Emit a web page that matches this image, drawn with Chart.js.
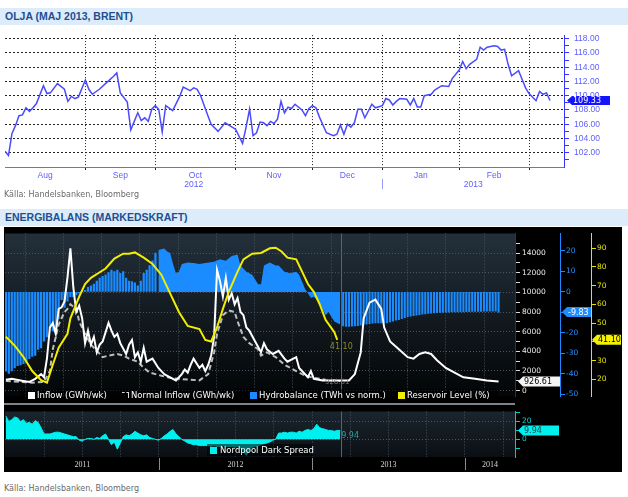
<!DOCTYPE html>
<html>
<head>
<meta charset="utf-8">
<title>Olja &amp; Energibalans</title>
<script src="https://cdn.jsdelivr.net/npm/chart.js@4.4.1/dist/chart.umd.min.js"></script>
<style>
  html, body { margin: 0; padding: 0; }
  body { width: 628px; height: 497px; position: relative; overflow: hidden; background: #fff; font-family: "DejaVu Sans", sans-serif; }
  .hdr { position: absolute; left: 0; width: 628px; height: 17px; background: #dcecfa; color: #1d4f90;
         font: bold 10.5px "Liberation Sans", Arial, sans-serif; line-height: 17px; padding-left: 5px; box-sizing: border-box; }
  .src { position: absolute; left: 4px; font-size: 8px; color: #6a6a6a; }
  canvas { position: absolute; display: block; }
  #dark { position: absolute; left: 4px; top: 227px; width: 618px; height: 245px; background: #000; }
  #sep { position: absolute; left: 4px; top: 403px; width: 511px; height: 2px; background: #7d848b; }
  .box { position: absolute; background: rgba(0,0,0,0.55); }
  .lt { position: absolute; top: 0; color: #fff; font-size: 8.5px; line-height: 12px; white-space: nowrap; }
  .sw { position: absolute; top: 3px; width: 7px; height: 7px; }
</style>
</head>
<body>

<div class="hdr" style="top:8px">OLJA (MAJ 2013, BRENT)</div>
<canvas id="oil" width="628" height="170" style="left:0;top:25px"></canvas>
<div class="src" style="top:190px">Källa: Handelsbanken, Bloomberg</div>

<div class="hdr" style="top:209px">ENERGIBALANS (MARKEDSKRAFT)</div>
<div id="dark"></div>
<canvas id="energy" width="617" height="176" style="left:5px;top:227px"></canvas>
<div id="sep"></div>
<canvas id="spread" width="617" height="67" style="left:5px;top:405px"></canvas>

<div class="box" style="left:20px;top:389px;width:478px;height:12px">
  <span class="sw" style="left:8px;background:#fff"></span><span class="lt" style="left:17px">Inflow (GWh/wk)</span>
  <span class="sw" style="left:102px;height:5px;width:6px;border-top:1px dashed #ddd;border-right:1px solid #ddd;background:none"></span><span class="lt" style="left:111px">Normal Inflow (GWh/wk)</span>
  <span class="sw" style="left:230px;background:#1a8cff"></span><span class="lt" style="left:239px">Hydrobalance (TWh vs norm.)</span>
  <span class="sw" style="left:378px;background:#f2ee00"></span><span class="lt" style="left:387px">Reservoir Level (%)</span>
</div>
<div class="box" style="left:207px;top:444px;width:106px;height:12px">
  <span class="sw" style="left:3px;background:#00f0f0"></span><span class="lt" style="left:13px">Nordpool Dark Spread</span>
</div>

<div class="src" style="top:484px">Källa: Handelsbanken, Bloomberg</div>

<script>
// ── Oil data (trading-day index from 1 Aug 2012) ─────────────
const MONTH_LABELS = ['Aug','Sep','Oct','Nov','Dec','Jan','Feb'];
const MONTH_START  = [0, 23, 43, 66, 88, 108, 130, 150];
const YEAR_LABELS  = ['2012', '2013'];
const YEAR_FROM    = [0, 108];
const YEAR_TO      = [108, 160];

const OIL_DAY = [
  0, 1, 2, 3, 4, 5, 6, 7, 8, 9, 11, 12, 13, 15, 17, 18, 19, 20, 21, 23,
  24, 25, 27, 29, 31, 32, 33, 35, 36, 37, 38, 39, 40, 41, 42, 43, 44, 45, 46, 48,
  50, 51, 53, 54, 55, 56, 58, 59, 61, 63, 65, 66, 68, 69, 70, 71, 72, 73, 74, 75,
  76, 77, 78, 79, 80, 81, 82, 83, 85, 86, 87, 88, 89, 90, 92, 94, 95, 96, 97, 98,
  99, 100, 101, 102, 103, 105, 106, 108, 109, 110, 111, 112, 113, 115, 116, 117, 118, 119, 120, 122,
  123, 125, 127, 128, 130, 131, 132, 133, 135, 136, 137, 138, 140, 141, 142, 143, 144, 145, 147, 148,
  149, 150, 152, 153, 154, 155, 156
];
const OIL_PRICE = [
  102.2, 101.6, 104.7, 105.8, 107.2, 107.3, 108.3, 107.8, 108.3, 108.9, 111.4, 110.3, 110.4, 111.7, 110.9, 109.2, 109.9, 109.6, 109.8, 112.2,
  110.9, 110.2, 110.9, 111.8, 112.7, 113.2, 110.4, 109.1, 105.2, 106.4, 107.6, 106.5, 106.9, 106.4, 108.1, 108.6, 108.1, 104.9, 108.6, 107.9,
  109.9, 111.2, 110.7, 111.1, 110.9, 110.0, 107.3, 106.0, 105.0, 106.2, 105.6, 105.3, 103.3, 105.6, 108.1, 104.4, 104.8, 106.3, 106.2, 105.8,
  106.4, 106.1, 106.7, 109.2, 107.6, 108.4, 108.2, 108.8, 108.0, 107.2, 108.2, 108.6, 108.3, 107.0, 104.8, 104.4, 104.6, 105.9, 104.6, 106.0,
  105.6, 106.2, 108.1, 108.1, 106.9, 108.8, 108.3, 108.6, 109.6, 109.4, 108.7, 109.2, 109.6, 109.5, 108.7, 109.6, 108.4, 108.4, 110.0, 110.2,
  110.8, 111.4, 111.3, 112.4, 113.6, 114.8, 113.8, 114.4, 115.1, 116.8, 116.4, 116.8, 117.0, 116.9, 116.4, 116.5, 114.4, 112.8, 113.5, 112.3,
  111.1, 110.3, 109.3, 110.6, 110.2, 110.4, 109.33
];

// ── Energy data (week number from 1 Jan 2011) ─────────────────
const YEARS      = ['2011', '2012', '2013', '2014'];
const YEAR_WEEK  = [0, 52.2, 104.4, 156.5];
const QUARTERS   = [13.05, 26.1, 39.1, 52.2, 65.2, 78.3, 91.3, 104.4, 117.4, 130.4, 143.5, 156.5, 169.6];
const NOW_WEEK   = 114.3;

const RES_WEEK  = [0, 3, 6, 9, 12, 14, 16, 18, 21, 22, 25, 27, 29, 32, 34, 37, 40, 42, 44, 47, 50, 53, 56, 59,
                   62, 66, 68, 70, 72, 74, 76, 79, 81, 84, 87, 90, 92, 94, 96, 99, 101, 103, 105, 107, 109, 112, 113];
const RES_LEVEL = [42.7, 38.0, 31.9, 24.4, 19.5, 18.2, 27.8, 36.9, 44.3, 52.6, 64.2, 70.9, 74.2, 77.2, 79.2, 84.5, 87.1, 87.1, 87.8, 85.0, 81.6, 75.9, 65.9, 56.0,
                   48.5, 46.8, 41.0, 40.2, 47.7, 57.6, 66.7, 77.5, 84.1, 87.1, 87.5, 90.0, 90.3, 88.3, 85.0, 84.1, 77.5, 70.9, 66.7, 60.1, 51.8, 45.2, 41.10];

const INFLOW_WEEK = [0, 2, 5, 8, 10, 12, 13, 14, 15, 16, 17, 18, 19, 20, 21, 22, 23, 24, 25, 26, 27, 28, 29, 30, 31, 32, 33, 35, 36, 37,
                     38, 39, 41, 42, 43, 44, 45, 46, 47, 48, 50, 52, 54, 56, 58, 60, 61, 62, 63, 64, 66, 67, 68, 69, 70, 71, 72, 73, 74, 75,
                     76, 77, 78, 79, 80, 81, 82, 83, 85, 87, 88, 89, 91, 93, 95, 96, 99, 100, 103, 104, 105, 108, 112, 117, 119, 121, 122, 124, 126, 128,
                     129, 131, 134, 137, 139, 141, 143, 145, 147, 150, 153, 156, 160, 164, 168];
const INFLOW      = [1110, 1200, 1040, 890, 1200, 1680, 1360, 3260, 6420, 6890, 5780, 8310, 8470, 9100, 11500, 14480, 10500, 8000, 8630, 7370, 4830, 6100, 4680, 5470, 3890, 4680, 5000, 6890, 6100, 5470,
                     5780, 4830, 3730, 4680, 5160, 3410, 3890, 2940, 4360, 2940, 3260, 2310, 1680, 1360, 1040, 1680, 2150, 1840, 2630, 3260, 2310, 2630, 1990, 2630, 3570, 5500, 12270, 11160, 9570, 11470,
                     9260, 9900, 8790, 9420, 8000, 7680, 6420, 6100, 5000, 3900, 4830, 4210, 3730, 4050, 3260, 2940, 3410, 2310, 1360, 1990, 1200, 1040, 1040, 1040, 1680, 3890, 7370, 8950, 9260, 8310,
                     6420, 5000, 4210, 3410, 3260, 3730, 3890, 3730, 3100, 2310, 1840, 1360, 1200, 1040, 926.61];

const NORMAL_WEEK   = [0, 5, 9, 13, 15, 16, 18, 20, 21, 22, 24, 25, 27, 29, 31, 33, 35, 38, 40, 42, 45, 47, 49, 53, 56,
                       59, 63, 66, 69, 71, 72, 74, 76, 78, 79, 81, 83, 86, 87, 89, 92, 95, 99, 102, 105, 109, 114];
const NORMAL_INFLOW = [980, 890, 800, 890, 1990, 4210, 6730, 8000, 8310, 8790, 8310, 7050, 5780, 4680, 4050, 3410, 3570, 3730, 3570, 3260, 2940, 2310, 1840, 1520, 1300,
                       1200, 1110, 1040, 1680, 3890, 5780, 7680, 8150, 8000, 7050, 5470, 4830, 4210, 3570, 3890, 3410, 2630, 1990, 1520, 1300, 1110, 980];

// hydrobalance 2011, one bar per week from week 0
const HYD_2011 = [-38.6, -39.8, -38.5, -37.1, -36, -35.6, -35, -34, -32.5, -31.5, -31, -28, -27.3, -24, -22, -17.4, -19, -20.5, -12.9, -3.8,
                  -7.5, -4.5, -2.3, -2.3, -1.5, -0.6, 0.5, 0.8, 2.3, 3, 3.8, 5.3, 6.8, 7.6, 8.4, 9.5, 10.6, 9.9, 10.6, 9.1,
                  9.9, 6.8, 5.3, 5, 4.5, 3, 5.3, 9.1, 10.6, 12.9, 15.2, 19];
const HYD_ACT_WEEK = [52, 54, 55, 56, 57, 58, 59, 60, 62, 64, 66, 68, 71, 73, 75, 77, 79, 80, 82, 84, 86, 87, 88, 90, 92, 93, 95, 97, 99, 100, 102, 104, 105, 107, 109, 110, 112, 114];
const HYD_ACT      = [20.5, 21.2, 19.7, 19, 13.6, 9.1, 9.9, 13.6, 14.4, 14.1, 13.6, 14.1, 14.7, 15.9, 15.2, 17.5, 18.2, 12.9, 9.9, 8.4, 3.8, 3.8, 12.9, 14.4, 12.9, 12.9,
                      9.9, 9.1, 9.9, 8.4, 1.5, -3, -2.3, -5.3, -11.4, -9.8, -14.4, -15.9];
// forecast, one bar per week from week 115
const HYD_FCST_FROM = 115;
const HYD_FCST = [-16.6, -16.8, -16.8, -16.7, -16.6, -16.4, -16.2, -15.9, -15.7, -15.5, -15.2, -15.1, -15.1, -15.1, -15.1, -15.1, -14.6, -14.2, -13.8, -13.5,
                  -13, -12.5, -12.1, -11.8, -11.6, -11.3, -11.1, -10.9, -10.7, -10.5, -10.4, -10.2, -10.1, -10, -10, -9.9, -9.9, -9.8, -9.8, -9.8,
                  -9.7, -9.7, -9.6, -9.6, -9.5, -9.5, -9.5, -9.5, -9.4, -9.4, -9.4, -9.4, -9.4, -9.83];

// Nordpool dark spread, one value per week from week 0
const DARK_SPREAD = [26, 20, 22, 25, 24, 20, 22, 18, 19, 17, 21, 19, 13, 6,
                     6, 6, 7, 8, 8, 7, 6, 5, 4, 3, 3,
                     -1, -2, 0, 1, 1, 0, 2, 1, 4, 6,
                     0, -6, -3, -11, -4,
                     3, 5, 4, 6, 9, 7, 5, 4, 5, 2, 1, 0, -1,
                     1, 4, 6, 9, 11, 6, 3,
                     0, -2, -4, -5, -6, -6, -7, -7,
                     -7, -7, -8, -7, -8, -8, -7, -8, -8, -8, -9, -8, -10, -13, -18, -12, -9, -8, -7, -6, -5, -4, -3, -1, 0,
                     7, 7, 8, 7, 8, 8, 7, 9, 8, 10, 11, 10, 12, 17, 13, 12, 11, 10, 10, 9, 10, 9.94];

// ── Helpers ───────────────────────────────────
Chart.defaults.font.family = 'DejaVu Sans';
Chart.defaults.animation = false;

const pts = (xs, ys) => ys.map((v, i) => ({ x: xs[i], y: v }));
const seq = (from, ys) => ys.map((v, i) => ({ x: from + i, y: v }));
const last = a => a[a.length - 1];
const fmt = v => v.toFixed(2);

function drawTag(ctx, x, y, w, h, text, bg, fg) {
  ctx.save();
  ctx.beginPath();
  ctx.moveTo(x, y);
  ctx.lineTo(x + 5, y - h / 2);
  ctx.lineTo(x + w, y - h / 2);
  ctx.lineTo(x + w, y + h / 2);
  ctx.lineTo(x + 5, y + h / 2);
  ctx.closePath();
  ctx.fillStyle = bg;
  ctx.fill();
  ctx.fillStyle = fg;
  ctx.font = '8px "DejaVu Sans"';
  ctx.textAlign = 'left';
  ctx.textBaseline = 'middle';
  ctx.fillText(text, x + 6, y + 0.5);
  ctx.restore();
}

function darkBackground(top, bottom) {
  return {
    id: 'darkBg',
    beforeDraw(chart) {
      const { ctx, chartArea: a } = chart;
      const g = ctx.createLinearGradient(0, a.top, 0, a.bottom);
      g.addColorStop(0, top);
      g.addColorStop(1, bottom);
      ctx.save();
      ctx.fillStyle = g;
      ctx.fillRect(a.left, a.top, a.right - a.left, a.bottom - a.top);
      ctx.restore();
    }
  };
}

function nowLine(chart) {
  const { ctx, chartArea: a, scales } = chart;
  const x = Math.round(scales.x.getPixelForValue(NOW_WEEK)) + 0.5;
  ctx.save();
  ctx.strokeStyle = '#1f8f1f';
  ctx.lineWidth = 1;
  ctx.beginPath();
  ctx.moveTo(x, a.top);
  ctx.lineTo(x, a.bottom);
  ctx.stroke();
  ctx.restore();
}

// ── Oil chart ─────────────────────────────────
const MONTH_MID = MONTH_LABELS.map((m, i) => (MONTH_START[i] + MONTH_START[i + 1]) / 2);
const OIL_BLUE = '#3434ff';
const OIL_TEXT = '#6060ff';

const oilExtras = {
  id: 'oilExtras',
  afterDraw(chart) {
    const { ctx, chartArea: a, scales: { x, y } } = chart;
    ctx.save();
    ctx.fillStyle = OIL_TEXT;
    ctx.font = '8.5px "Liberation Sans"';
    ctx.textAlign = 'center';
    ctx.textBaseline = 'top';
    YEAR_LABELS.forEach((lab, i) =>
      ctx.fillText(lab, x.getPixelForValue((YEAR_FROM[i] + YEAR_TO[i]) / 2), a.bottom + 13));
    const sx = Math.round(x.getPixelForValue(YEAR_FROM[1])) + 0.5;
    ctx.strokeStyle = '#9b9bff';
    ctx.beginPath();
    ctx.moveTo(sx, a.bottom + 12);
    ctx.lineTo(sx, a.bottom + 22);
    ctx.stroke();
    ctx.restore();
    const v = last(OIL_PRICE);
    drawTag(ctx, a.right + 3, y.getPixelForValue(v), 43, 9, fmt(v), '#1414ff', '#fff');
  }
};

new Chart(document.getElementById('oil'), {
  type: 'line',
  data: {
    datasets: [{
      data: pts(OIL_DAY, OIL_PRICE),
      borderColor: '#4a4aff',
      borderWidth: 1.5,
      pointRadius: 0,
      tension: 0,
    }]
  },
  options: {
    responsive: false,
    layout: { padding: { left: 5, top: 4, right: 0, bottom: 0 }, autoPadding: false },
    plugins: { legend: { display: false }, tooltip: { enabled: false } },
    scales: {
      x: {
        type: 'linear', min: 0, max: 160,
        afterBuildTicks: s => {
          s.ticks = [...MONTH_START.slice(1), ...MONTH_MID]
            .sort((p, q) => p - q).map(v => ({ value: v }));
        },
        afterFit: s => { s.height = 28; },
        grid: {
          color: c => MONTH_START.includes(c.tick.value) ? '#222' : 'rgba(0,0,0,0)',
          tickColor: c => MONTH_START.includes(c.tick.value) ? '#222' : 'rgba(0,0,0,0)',
          tickLength: 3,
        },
        border: { color: '#6a6aff', width: 1, dash: [1, 2] },
        ticks: {
          autoSkip: false, maxRotation: 0, padding: 1,
          color: OIL_TEXT, font: { family: 'Liberation Sans', size: 8.5 },
          callback: v => { const i = MONTH_MID.indexOf(v); return i >= 0 ? MONTH_LABELS[i] : ''; }
        }
      },
      y: {
        position: 'right', min: 100, max: 118.5,
        afterBuildTicks: s => {
          s.ticks = [];
          for (let v = 101; v <= 118; v++) s.ticks.push({ value: v });
        },
        afterFit: s => { s.width = 64; },
        grid: {
          color: c => c.tick.value % 2 === 0 ? '#222' : 'rgba(0,0,0,0)',
          tickColor: OIL_BLUE,
          tickLength: 5,
        },
        border: { color: OIL_BLUE, dash: [2, 2] },
        ticks: {
          autoSkip: false, padding: 5, color: OIL_TEXT, font: { family: 'Liberation Sans', size: 8.5 },
          callback: v => v % 2 === 0 ? v.toFixed(2) : ''
        }
      }
    }
  },
  plugins: [oilExtras]
});

// ── Energy balance chart ──────────────────────
const GRID = '#4a545e';
const BLUE = '#1a8cff';
const YELLOW = '#f2ee00';

const energyExtras = {
  id: 'energyExtras',
  afterDraw(chart) {
    const { ctx, scales: { x, yi, yh, yr } } = chart;
    nowLine(chart);

    // on-chart last-value texts
    ctx.save();
    ctx.textAlign = 'center';
    ctx.textBaseline = 'middle';
    ctx.font = '8px "DejaVu Sans"';
    ctx.fillStyle = '#8c8c28';
    ctx.fillText(fmt(last(RES_LEVEL)), x.getPixelForValue(last(RES_WEEK)) + 4,
                 yr.getPixelForValue(last(RES_LEVEL)) + 7);
    ctx.font = '7px "DejaVu Sans"';
    ctx.fillStyle = '#7a7a7a';
    ctx.fillText(fmt(last(INFLOW)), x.getPixelForValue(last(NORMAL_WEEK)) - 3,
                 yi.getPixelForValue(last(NORMAL_INFLOW)) + 1);
    ctx.restore();

    drawTag(ctx, yi.left + 3, yi.getPixelForValue(last(INFLOW)), 42, 10, fmt(last(INFLOW)), '#f4f4f4', '#000');
    drawTag(ctx, yh.left + 2, yh.getPixelForValue(last(HYD_FCST)), 29, 10, fmt(last(HYD_FCST)), '#1e8cff', '#fff');
    drawTag(ctx, yr.left + 1, yr.getPixelForValue(last(RES_LEVEL)), 29, 10, fmt(last(RES_LEVEL)), '#f5f000', '#000');
  }
};

const quarterTicks = s => { s.ticks = QUARTERS.map(v => ({ value: v })); };

new Chart(document.getElementById('energy'), {
  type: 'line',
  data: {
    datasets: [
      { label: 'Reservoir Level (%)', data: pts(RES_WEEK, RES_LEVEL), yAxisID: 'yr',
        borderColor: YELLOW, borderWidth: 2, pointRadius: 0, order: 1 },
      { label: 'Inflow (GWh/wk)', data: pts(INFLOW_WEEK, INFLOW), yAxisID: 'yi',
        borderColor: '#ffffff', borderWidth: 2, pointRadius: 0, order: 2 },
      { label: 'Normal Inflow (GWh/wk)', data: pts(NORMAL_WEEK, NORMAL_INFLOW), yAxisID: 'yi',
        borderColor: '#bdbdbd', borderWidth: 2, borderDash: [5, 3], pointRadius: 0, order: 3 },
      { label: 'Hydrobalance', data: pts(HYD_ACT_WEEK, HYD_ACT), yAxisID: 'yh',
        borderWidth: 0, borderColor: BLUE, backgroundColor: BLUE, fill: 'origin', pointRadius: 0, order: 4 },
      { type: 'bar', label: 'Hydrobalance 2011', data: seq(0, HYD_2011), yAxisID: 'yh',
        backgroundColor: BLUE, barThickness: 1.6, grouped: false, order: 5 },
      { type: 'bar', label: 'Hydrobalance forecast', data: seq(HYD_FCST_FROM, HYD_FCST), yAxisID: 'yh',
        backgroundColor: BLUE, barThickness: 1.4, grouped: false, order: 5 },
    ]
  },
  options: {
    responsive: false,
    layout: { padding: 0, autoPadding: false },
    plugins: { legend: { display: false }, tooltip: { enabled: false } },
    scales: {
      x: {
        type: 'linear', min: -0.3, max: 173.6, offset: false,
        afterBuildTicks: quarterTicks,
        afterFit: s => { s.height = 1; },
        ticks: { display: false },
        grid: { color: GRID, drawTicks: false },
        border: { display: false, dash: [1, 2] }
      },
      yi: {
        position: 'right', min: -597, max: 15990, weight: 0,
        afterBuildTicks: s => {
          s.ticks = [];
          for (let v = 0; v <= 15000; v += 1000) s.ticks.push({ value: v });
        },
        afterFit: s => { s.width = 45; },
        grid: {
          color: c => c.tick.value % 2000 === 0 && c.tick.value <= 14000 ? GRID : 'rgba(0,0,0,0)',
          tickColor: '#d8d8d8', tickLength: 5
        },
        border: { color: '#333', dash: [1, 2] },
        ticks: { autoSkip: false, color: '#ececec', font: { size: 7.5 }, padding: 2,
                 callback: v => v % 2000 === 0 && v <= 14000 ? v : '' }
      },
      yh: {
        position: 'right', min: -51, max: 28.5, weight: 1,
        afterBuildTicks: s => { s.ticks = [-50, -40, -30, -20, -10, 0, 10, 20].map(v => ({ value: v })); },
        afterFit: s => { s.width = 31; },
        grid: { drawOnChartArea: false, tickColor: '#1e88ff', tickLength: 5 },
        border: { color: '#1e88ff' },
        ticks: { autoSkip: false, color: '#2a90ff', font: { size: 7.5 }, padding: 1 }
      },
      yr: {
        position: 'right', min: 10.8, max: 97.9, weight: 2,
        afterBuildTicks: s => { s.ticks = [20, 30, 40, 50, 60, 70, 80, 90].map(v => ({ value: v })); },
        afterFit: s => { s.width = 31; },
        grid: { drawOnChartArea: false, tickColor: '#e6e200', tickLength: 5 },
        border: { color: '#e6e200' },
        ticks: { autoSkip: false, color: '#e6e200', font: { size: 7.5 }, padding: 1 }
      }
    }
  },
  plugins: [darkBackground('#23303b', '#030506'), energyExtras]
});

// ── Dark spread sub-panel ─────────────────────
const CYAN = '#00f0f0';

const spreadExtras = {
  id: 'spreadExtras',
  afterDraw(chart) {
    const { ctx, chartArea: a, scales: { x, yd } } = chart;
    nowLine(chart);

    ctx.save();
    // year band
    ctx.strokeStyle = '#8a8a8a';
    YEAR_WEEK.slice(1).forEach(w => {
      const px = Math.round(x.getPixelForValue(w)) + 0.5;
      ctx.beginPath();
      ctx.moveTo(px, a.bottom + 1);
      ctx.lineTo(px, a.bottom + 13);
      ctx.stroke();
    });
    ctx.fillStyle = '#d4d4d4';
    ctx.font = '8px "Liberation Serif"';
    ctx.textAlign = 'center';
    ctx.textBaseline = 'middle';
    YEARS.forEach((yr, i) => {
      const from = Math.max(YEAR_WEEK[i], x.min);
      const to = Math.min(i + 1 < YEAR_WEEK.length ? YEAR_WEEK[i + 1] : x.max, x.max);
      ctx.fillText(yr, x.getPixelForValue((from + to) / 2), a.bottom + 8);
    });
    // last value text
    const v = last(DARK_SPREAD);
    ctx.fillStyle = '#2f9e9e';
    ctx.font = '8px "DejaVu Sans"';
    ctx.textAlign = 'left';
    ctx.fillText(fmt(v), x.getPixelForValue(DARK_SPREAD.length - 1) + 1, yd.getPixelForValue(v) + 5);
    ctx.restore();

    drawTag(ctx, yd.left + 3, yd.getPixelForValue(v), 41, 10, fmt(v), CYAN, '#0d4848');
  }
};

new Chart(document.getElementById('spread'), {
  type: 'line',
  data: {
    datasets: [{
      label: 'Nordpool Dark Spread',
      data: seq(0, DARK_SPREAD),
      yAxisID: 'yd',
      borderColor: CYAN, borderWidth: 1,
      backgroundColor: CYAN, fill: 'origin',
      pointRadius: 0,
    }]
  },
  options: {
    responsive: false,
    layout: { padding: { top: 1 }, autoPadding: false },
    plugins: { legend: { display: false }, tooltip: { enabled: false } },
    scales: {
      x: {
        type: 'linear', min: -0.3, max: 173.6, offset: false,
        afterBuildTicks: quarterTicks,
        afterFit: s => { s.height = 15; },
        ticks: { display: false },
        grid: { color: GRID, drawTicks: false },
        border: { display: false, dash: [1, 2] }
      },
      yd: {
        position: 'right', min: -19.8, max: 31.2,
        afterBuildTicks: s => { s.ticks = [-10, 0, 10, 20, 30].map(v => ({ value: v })); },
        afterFit: s => { s.width = 107; },
        grid: {
          color: c => c.tick.value === 0 || c.tick.value === 20 ? GRID : 'rgba(0,0,0,0)',
          tickColor: '#00d0d0', tickLength: 5
        },
        border: { color: '#00c8c8', dash: [1, 2] },
        ticks: { autoSkip: false, color: '#00d8d8', font: { size: 7.5 }, padding: 2,
                 callback: v => v % 20 === 0 ? v : '' }
      }
    }
  },
  plugins: [darkBackground('#1b252e', '#0a0f13'), spreadExtras]
});
</script>
</body>
</html>
